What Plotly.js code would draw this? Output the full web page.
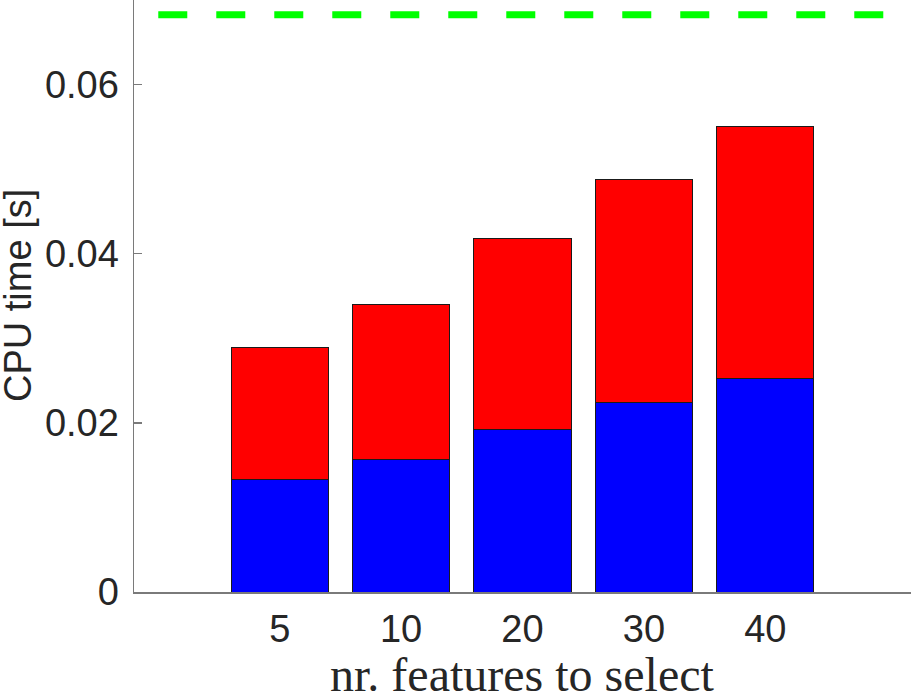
<!DOCTYPE html>
<html>
<head>
<meta charset="utf-8">
<script src="https://cdn.plot.ly/plotly-3.0.1.min.js"></script>
<style>html,body{margin:0;padding:0;background:#fff;}#chart{width:913px;height:691px;}</style>
</head>
<body>
<div id="chart"></div>
<script>
// Data
const categories = ['5', '10', '20', '30', '40'];
const blueValues = [0.01334, 0.01562, 0.01917, 0.02237, 0.02521];
const redValues  = [0.01562, 0.01834, 0.02261, 0.02639, 0.02978];
const referenceLevel = 0.06825;
const yTickVals = [0, 0.02, 0.04, 0.06];
const yTickText = ['0', '0.02', '0.04', '0.06'];
const xLabel = 'nr. features to select';
const yLabel = 'CPU time [s]';

const positions = categories.map((_, i) => i + 1);
const lineX = [0, categories.length + 1];

const barLine = {color: '#1a1a1a', width: 1};
const traces = [
  {type: 'bar', x: positions, y: blueValues, width: 0.8,
   marker: {color: '#0000ff', line: barLine}, hoverinfo: 'y'},
  {type: 'bar', x: positions, y: redValues, width: 0.8,
   marker: {color: '#ff0000', line: barLine}, hoverinfo: 'y'},
  {type: 'scatter', mode: 'lines', x: lineX, y: lineX.map(() => referenceLevel),
   line: {color: '#00ff00', width: 7, dash: '29px,29px'}, hoverinfo: 'y'}
];

const axisColor = '#7a7a7a';
const textColor = '#262626';
const layout = {
  width: 913, height: 691,
  margin: {l: 134, r: 2, t: 0, b: 99, pad: 0},
  barmode: 'stack',
  showlegend: false,
  paper_bgcolor: '#ffffff',
  plot_bgcolor: '#ffffff',
  xaxis: {
    range: [-0.2, 6.2],
    tickmode: 'array', tickvals: positions, ticktext: categories,
    ticks: '', showgrid: false, zeroline: false,
    showline: true, linecolor: axisColor, linewidth: 1.5,
    tickfont: {family: 'Liberation Sans, Arial, sans-serif', size: 38, color: textColor},
    ticklabelstandoff: 3
  },
  yaxis: {
    range: [0, 0.07],
    tickmode: 'array', tickvals: yTickVals, ticktext: yTickText,
    ticks: 'inside', ticklen: 8, tickcolor: axisColor, tickwidth: 1.5,
    showgrid: false, zeroline: false,
    showline: true, linecolor: axisColor, linewidth: 1.5,
    tickfont: {family: 'Liberation Sans, Arial, sans-serif', size: 38, color: textColor},
    ticklabelstandoff: 6
  },
  annotations: [
    {text: xLabel, xref: 'paper', yref: 'paper', x: 0.5, y: 0,
     xanchor: 'center', yanchor: 'top', yshift: -54, showarrow: false,
     font: {family: 'Liberation Serif, Times New Roman, serif', size: 48, color: textColor}},
    {text: yLabel, xref: 'paper', yref: 'paper', x: 0, y: 0.5,
     xanchor: 'center', yanchor: 'middle', xshift: -116, textangle: -90, showarrow: false,
     font: {family: 'Liberation Sans, Arial, sans-serif', size: 38, color: textColor}}
  ]
};

Plotly.newPlot('chart', traces, layout, {displayModeBar: false, staticPlot: true});
</script>
</body>
</html>
